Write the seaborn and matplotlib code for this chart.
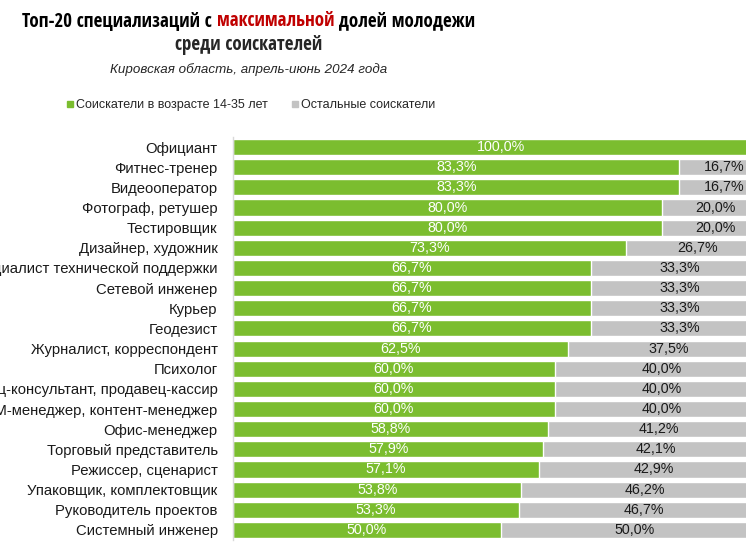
import matplotlib
matplotlib.use("Agg")
import matplotlib.pyplot as plt
from matplotlib.lines import Line2D
import seaborn as sns
import pandas as pd

categories = [
    "Официант", "Фитнес-тренер", "Видеооператор", "Фотограф, ретушер",
    "Тестировщик", "Дизайнер, художник", "Специалист технической поддержки",
    "Сетевой инженер", "Курьер", "Геодезист", "Журналист, корреспондент",
    "Психолог", "Продавец-консультант, продавец-кассир",
    "SMM-менеджер, контент-менеджер", "Офис-менеджер",
    "Торговый представитель", "Режиссер, сценарист",
    "Упаковщик, комплектовщик", "Руководитель проектов", "Системный инженер",
]
young = [100.0, 83.3, 83.3, 80.0, 80.0, 73.3, 66.7, 66.7, 66.7, 66.7,
         62.5, 60.0, 60.0, 60.0, 58.8, 57.9, 57.1, 53.8, 53.3, 50.0]
others = [0.0, 16.7, 16.7, 20.0, 20.0, 26.7, 33.3, 33.3, 33.3, 33.3,
          37.5, 40.0, 40.0, 40.0, 41.2, 42.1, 42.9, 46.2, 46.7, 50.0]
series_names = ["Соискатели в возрасте 14-35 лет", "Остальные соискатели"]

GREEN = "#7BBD2F"
GRAY = "#C3C3C3"
FONT = ["Liberation Sans", "DejaVu Sans"]

sns.set_theme(style="white")
plt.rcParams["font.family"] = FONT

df = pd.DataFrame({"cat": categories, "young": young, "others": others})
df["total"] = df["young"] + df["others"]

fig = plt.figure(figsize=(7.46, 5.59), dpi=100)
ax = fig.add_axes([233 / 746, 19 / 559, 536 / 746, 403 / 559])
r = fig.canvas.get_renderer()


def fit_size(text, width_px, **kw):
    # font size that makes the text as wide as in the reference
    t = fig.text(0, 0, text, fontsize=10, **kw)
    w = t.get_window_extent(r).width
    t.remove()
    return 10 * width_px / w


# stacked bars: gray total underneath, green share on top
sns.barplot(data=df, x="total", y="cat", color=GRAY, width=0.8,
            saturation=1, ax=ax)
sns.barplot(data=df, x="young", y="cat", color=GREEN, width=0.8,
            saturation=1, ax=ax)

for i, (g, o) in enumerate(zip(young, others)):
    ax.text(g / 2, i, f"{g:.1f}%".replace(".", ","), ha="center",
            va="center", color="white", fontsize=10.3)
    if o > 0:
        ax.text(g + o / 2, i, f"{o:.1f}%".replace(".", ","), ha="center",
                va="center", color="#1a1a1a", fontsize=10.3)

ax.set_xlim(0, 100)
ax.set_ylim(19.5, -0.5)
ax.set_xlabel("")
ax.set_ylabel("")
ax.set_xticks([])
for s in ["top", "right", "bottom"]:
    ax.spines[s].set_visible(False)
ax.spines["left"].set_color("#D9D9D9")
ax.spines["left"].set_linewidth(1)
ax.tick_params(axis="y", length=0, pad=11, labelsize=10.7,
               labelcolor="#1a1a1a")

# title: one word in red
cx = 249 / 746
tkw = dict(family=["Open Sans Condensed", "DejaVu Sans"], fontweight="bold",
           fontstretch="condensed")
line1 = "Топ-20 специализаций с максимальной долей молодежи"
tsize = fit_size(line1, 452, **tkw)
parts = [("Топ-20 специализаций с ", "black"), ("максимальной", "#C00000"),
         (" долей молодежи", "black")]
texts = [fig.text(0, 1 - 21 / 559, p, color=c, fontsize=tsize,
                  va="center", ha="left", **tkw) for p, c in parts]
widths = [t.get_window_extent(r).width for t in texts]
x = cx * 746 - sum(widths) / 2
for t, w in zip(texts, widths):
    t.set_x(x / 746)
    x += w
fig.text(cx, 1 - 45 / 559, "среди соискателей", fontsize=tsize,
         ha="center", va="center", **tkw)

fig.text(cx, 1 - 70 / 559, "Кировская область, апрель-июнь 2024 года",
         fontsize=9.6, style="italic", ha="center", va="center")

handles = [Line2D([], [], marker="s", linestyle="none", markersize=5,
                  color=c) for c in (GREEN, GRAY)]
fig.legend(handles, series_names, loc="center", ncol=2,
           bbox_to_anchor=(251 / 746, 1 - 105 / 559), frameon=False,
           fontsize=9, handletextpad=0.15, columnspacing=1.9,
           handlelength=0.6)

fig.savefig("out.png", dpi=100)
